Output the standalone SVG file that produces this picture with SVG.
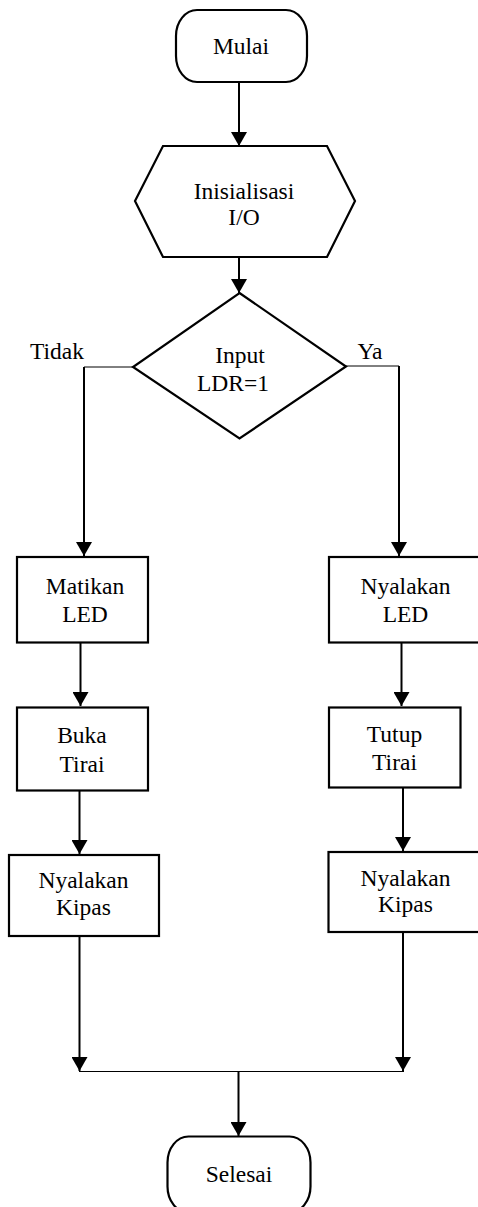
<svg xmlns="http://www.w3.org/2000/svg" width="478" height="1207" viewBox="0 0 478 1207">
<style>
.s{fill:#fff;stroke:#000;stroke-width:2.2}
.t{font-family:"Liberation Serif","Times New Roman",serif;font-size:23.5px;fill:#000;text-anchor:middle}
.c{fill:none;stroke:#000;stroke-width:2}
.h{fill:none;stroke:#000;stroke-width:1}
</style>
<defs>
<marker id="ar" markerUnits="userSpaceOnUse" markerWidth="14" markerHeight="16" refX="14" refY="8" orient="auto" viewBox="0 0 14 16">
<path d="M0,0 L14,8 L0,16 z" fill="#000"/>
</marker>
</defs>
<g id="connectors">
<line class="c" x1="239" y1="82" x2="239" y2="146" marker-end="url(#ar)"/>
<line class="c" x1="239" y1="257" x2="239" y2="293" marker-end="url(#ar)"/>
<polyline class="h" points="133,367 84,367"/>
<line class="c" x1="84" y1="367" x2="84" y2="556" marker-end="url(#ar)"/>
<polyline class="h" points="346,366 399,366"/>
<line class="c" x1="399" y1="366" x2="399" y2="556" marker-end="url(#ar)"/>
<line class="c" x1="80.5" y1="643" x2="80.5" y2="706" marker-end="url(#ar)"/>
<line class="c" x1="79.5" y1="791" x2="79.5" y2="854" marker-end="url(#ar)"/>
<line class="c" x1="401.5" y1="643" x2="401.5" y2="706" marker-end="url(#ar)"/>
<line class="c" x1="403" y1="788" x2="403" y2="851" marker-end="url(#ar)"/>
<line class="c" x1="79.5" y1="936" x2="79.5" y2="1071" marker-end="url(#ar)"/>
<line class="c" x1="403" y1="932" x2="403" y2="1071" marker-end="url(#ar)"/>
<line class="h" x1="79" y1="1071.5" x2="404" y2="1071.5"/>
<line class="c" x1="238.5" y1="1071" x2="238.5" y2="1136" marker-end="url(#ar)"/>
</g>
<g id="mulai">
<rect class="s" x="176" y="10" width="131" height="72" rx="21" ry="26"/>
<text class="t" x="241" y="54">Mulai</text>
</g>
<g id="inisialisasi">
<polygon class="s" points="163,146 327,146 355,201 327,257 163,257 135,201"/>
<text class="t" x="244" y="199">Inisialisasi</text>
<text class="t" x="244" y="225">I/O</text>
</g>
<g id="decision">
<polygon class="s" points="239.5,293 346,366.5 239.5,438.5 133,367"/>
<text class="t" x="240" y="363">Input</text>
<text class="t" x="233" y="391">LDR=1</text>
</g>
<g id="label-tidak"><text class="t" x="57" y="359">Tidak</text></g>
<g id="label-ya"><text class="t" x="370" y="359">Ya</text></g>
<g id="matikan-led">
<rect class="s" x="17" y="557" width="131" height="85.5"/>
<text class="t" x="85" y="594">Matikan</text>
<text class="t" x="85" y="621.5">LED</text>
</g>
<g id="nyalakan-led">
<rect class="s" x="329" y="557" width="153" height="85.5"/>
<text class="t" x="405.5" y="594">Nyalakan</text>
<text class="t" x="405.5" y="621.5">LED</text>
</g>
<g id="buka-tirai">
<rect class="s" x="17" y="707.5" width="131" height="83"/>
<text class="t" x="82" y="743">Buka</text>
<text class="t" x="82" y="771.5">Tirai</text>
</g>
<g id="tutup-tirai">
<rect class="s" x="329" y="707.5" width="131.5" height="80"/>
<text class="t" x="394.5" y="741.5">Tutup</text>
<text class="t" x="394.5" y="770">Tirai</text>
</g>
<g id="nyalakan-kipas-kiri">
<rect class="s" x="9" y="855" width="150" height="81"/>
<text class="t" x="83.5" y="888">Nyalakan</text>
<text class="t" x="83.5" y="915">Kipas</text>
</g>
<g id="nyalakan-kipas-kanan">
<rect class="s" x="328.5" y="852" width="153" height="80"/>
<text class="t" x="405.5" y="885.5">Nyalakan</text>
<text class="t" x="405.5" y="912">Kipas</text>
</g>
<g id="selesai">
<rect class="s" x="167.5" y="1136.5" width="143" height="76" rx="21" ry="26"/>
<text class="t" x="239" y="1181.5">Selesai</text>
</g>
</svg>
